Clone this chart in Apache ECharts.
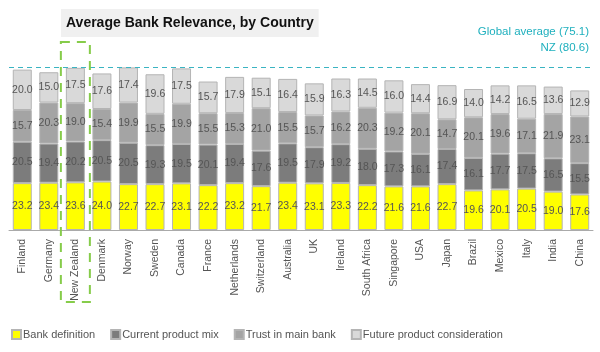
<!DOCTYPE html>
<html>
<head>
<meta charset="utf-8">
<script src="https://cdn.jsdelivr.net/npm/echarts@6/dist/echarts.min.js"></script>
<style>
  html, body { margin: 0; padding: 0; background: #fff; }
  #main { width: 600px; height: 352px; }
</style>
</head>
<body>
<div id="main"></div>
<script>
var countries = ['Finland', 'Germany', 'New Zealand', 'Denmark', 'Norway', 'Sweden', 'Canada', 'France',
  'Netherlands', 'Switzerland', 'Australia', 'UK', 'Ireland', 'South Africa', 'Singapore', 'USA',
  'Japan', 'Brazil', 'Mexico', 'Italy', 'India', 'China'];
var bankDefinition = [23.2, 23.4, 23.6, 24.0, 22.7, 22.7, 23.1, 22.2, 23.2, 21.7, 23.4, 23.1, 23.3, 22.2, 21.6, 21.6, 22.7, 19.6, 20.1, 20.5, 19.0, 17.6];
var currentMix = [20.5, 19.4, 20.2, 20.5, 20.5, 19.3, 19.5, 20.1, 19.4, 17.6, 19.5, 17.9, 19.2, 18.0, 17.3, 16.1, 17.4, 16.1, 17.7, 17.5, 16.5, 15.5];
var trustMainBank = [15.7, 20.3, 19.0, 15.4, 19.9, 15.5, 19.9, 15.5, 15.3, 21.0, 15.5, 15.7, 16.2, 20.3, 19.2, 20.1, 14.7, 20.1, 19.6, 17.1, 21.9, 23.1];
var futureProduct = [20.0, 15.0, 17.5, 17.6, 17.4, 19.6, 17.5, 15.7, 17.9, 15.1, 16.4, 15.9, 16.3, 14.5, 16.0, 14.4, 16.9, 14.0, 14.2, 16.5, 13.6, 12.9];
var nzAverage = 80.6;
var globalAverage = 75.1;

var chart = echarts.init(document.getElementById('main'));

function seg(name, data, color) {
  return {
    name: name,
    type: 'bar',
    stack: 'total',
    barWidth: 19,
    data: data,
    itemStyle: { color: color, borderColor: '#b4b4b4', borderWidth: 1 },
    label: {
      show: true,
      position: 'inside',
      color: '#555',
      fontSize: 10.5,
      fontFamily: 'Liberation Sans, Arial',
      formatter: function (p) { return p.value.toFixed(1); }
    },
    emphasis: { disabled: true }
  };
}

var futureSeries = seg('Future product consideration', futureProduct, '#d9d9d9');
futureSeries.markLine = {
  silent: true,
  symbol: 'none',
  label: { show: false },
  lineStyle: { color: '#3ab4c2', type: [5, 4], width: 1 },
  data: [{ yAxis: nzAverage }]
};

var option = {
  animation: false,
  textStyle: { fontFamily: 'Liberation Sans, Arial' },
  title: [{
    text: 'Average Bank Relevance, by Country',
    left: 61,
    top: 9,
    padding: [7, 5, 7, 5],
    backgroundColor: '#f0f0f0',
    textStyle: { fontSize: 14, fontWeight: 'bold', color: '#111', fontFamily: 'Liberation Sans, Arial' }
  }, {
    text: 'Global average (' + globalAverage.toFixed(1) + ')',
    right: 6,
    top: 21,
    textStyle: { fontSize: 11.5, fontWeight: 'normal', color: '#1fb0be', fontFamily: 'Liberation Sans, Arial' }
  }, {
    text: 'NZ (' + nzAverage.toFixed(1) + ')',
    right: 6,
    top: 37,
    textStyle: { fontSize: 11.5, fontWeight: 'normal', color: '#1fb0be', fontFamily: 'Liberation Sans, Arial' }
  }],
  legend: {
    left: 6,
    bottom: 7,
    itemWidth: 9,
    itemHeight: 9,
    itemGap: 15,
    icon: 'rect',
    textStyle: { fontSize: 11, color: '#555', padding: [0, 0, 0, -3] },
    data: ['Bank definition', 'Current product mix', 'Trust in main bank', 'Future product consideration']
  },
  grid: { left: 9, right: 7, top: 28, bottom: 122 },
  xAxis: {
    type: 'category',
    data: countries,
    axisTick: { show: false },
    axisLine: { lineStyle: { color: '#aaa' } },
    axisLabel: { rotate: 90, fontSize: 10.5, color: '#555', margin: 9, interval: 0 }
  },
  yAxis: {
    type: 'value',
    min: 0,
    max: 100,
    show: false
  },
  series: [
    seg('Bank definition', bankDefinition, '#ffff00'),
    seg('Current product mix', currentMix, '#7c7c7c'),
    seg('Trust in main bank', trustMainBank, '#a4a4a4'),
    futureSeries
  ]
};

chart.setOption(option);

// green dashed highlight box around New Zealand
var nzX = chart.convertToPixel({ xAxisIndex: 0 }, 'New Zealand');
chart.setOption({
  graphic: [{
    type: 'rect',
    silent: true,
    shape: { x: nzX - 14.5, y: 42, width: 29, height: 260 },
    style: { fill: null, stroke: '#86cc4a', lineWidth: 2, lineDash: [9, 7] },
    z: 100
  }]
});
</script>
</body>
</html>
